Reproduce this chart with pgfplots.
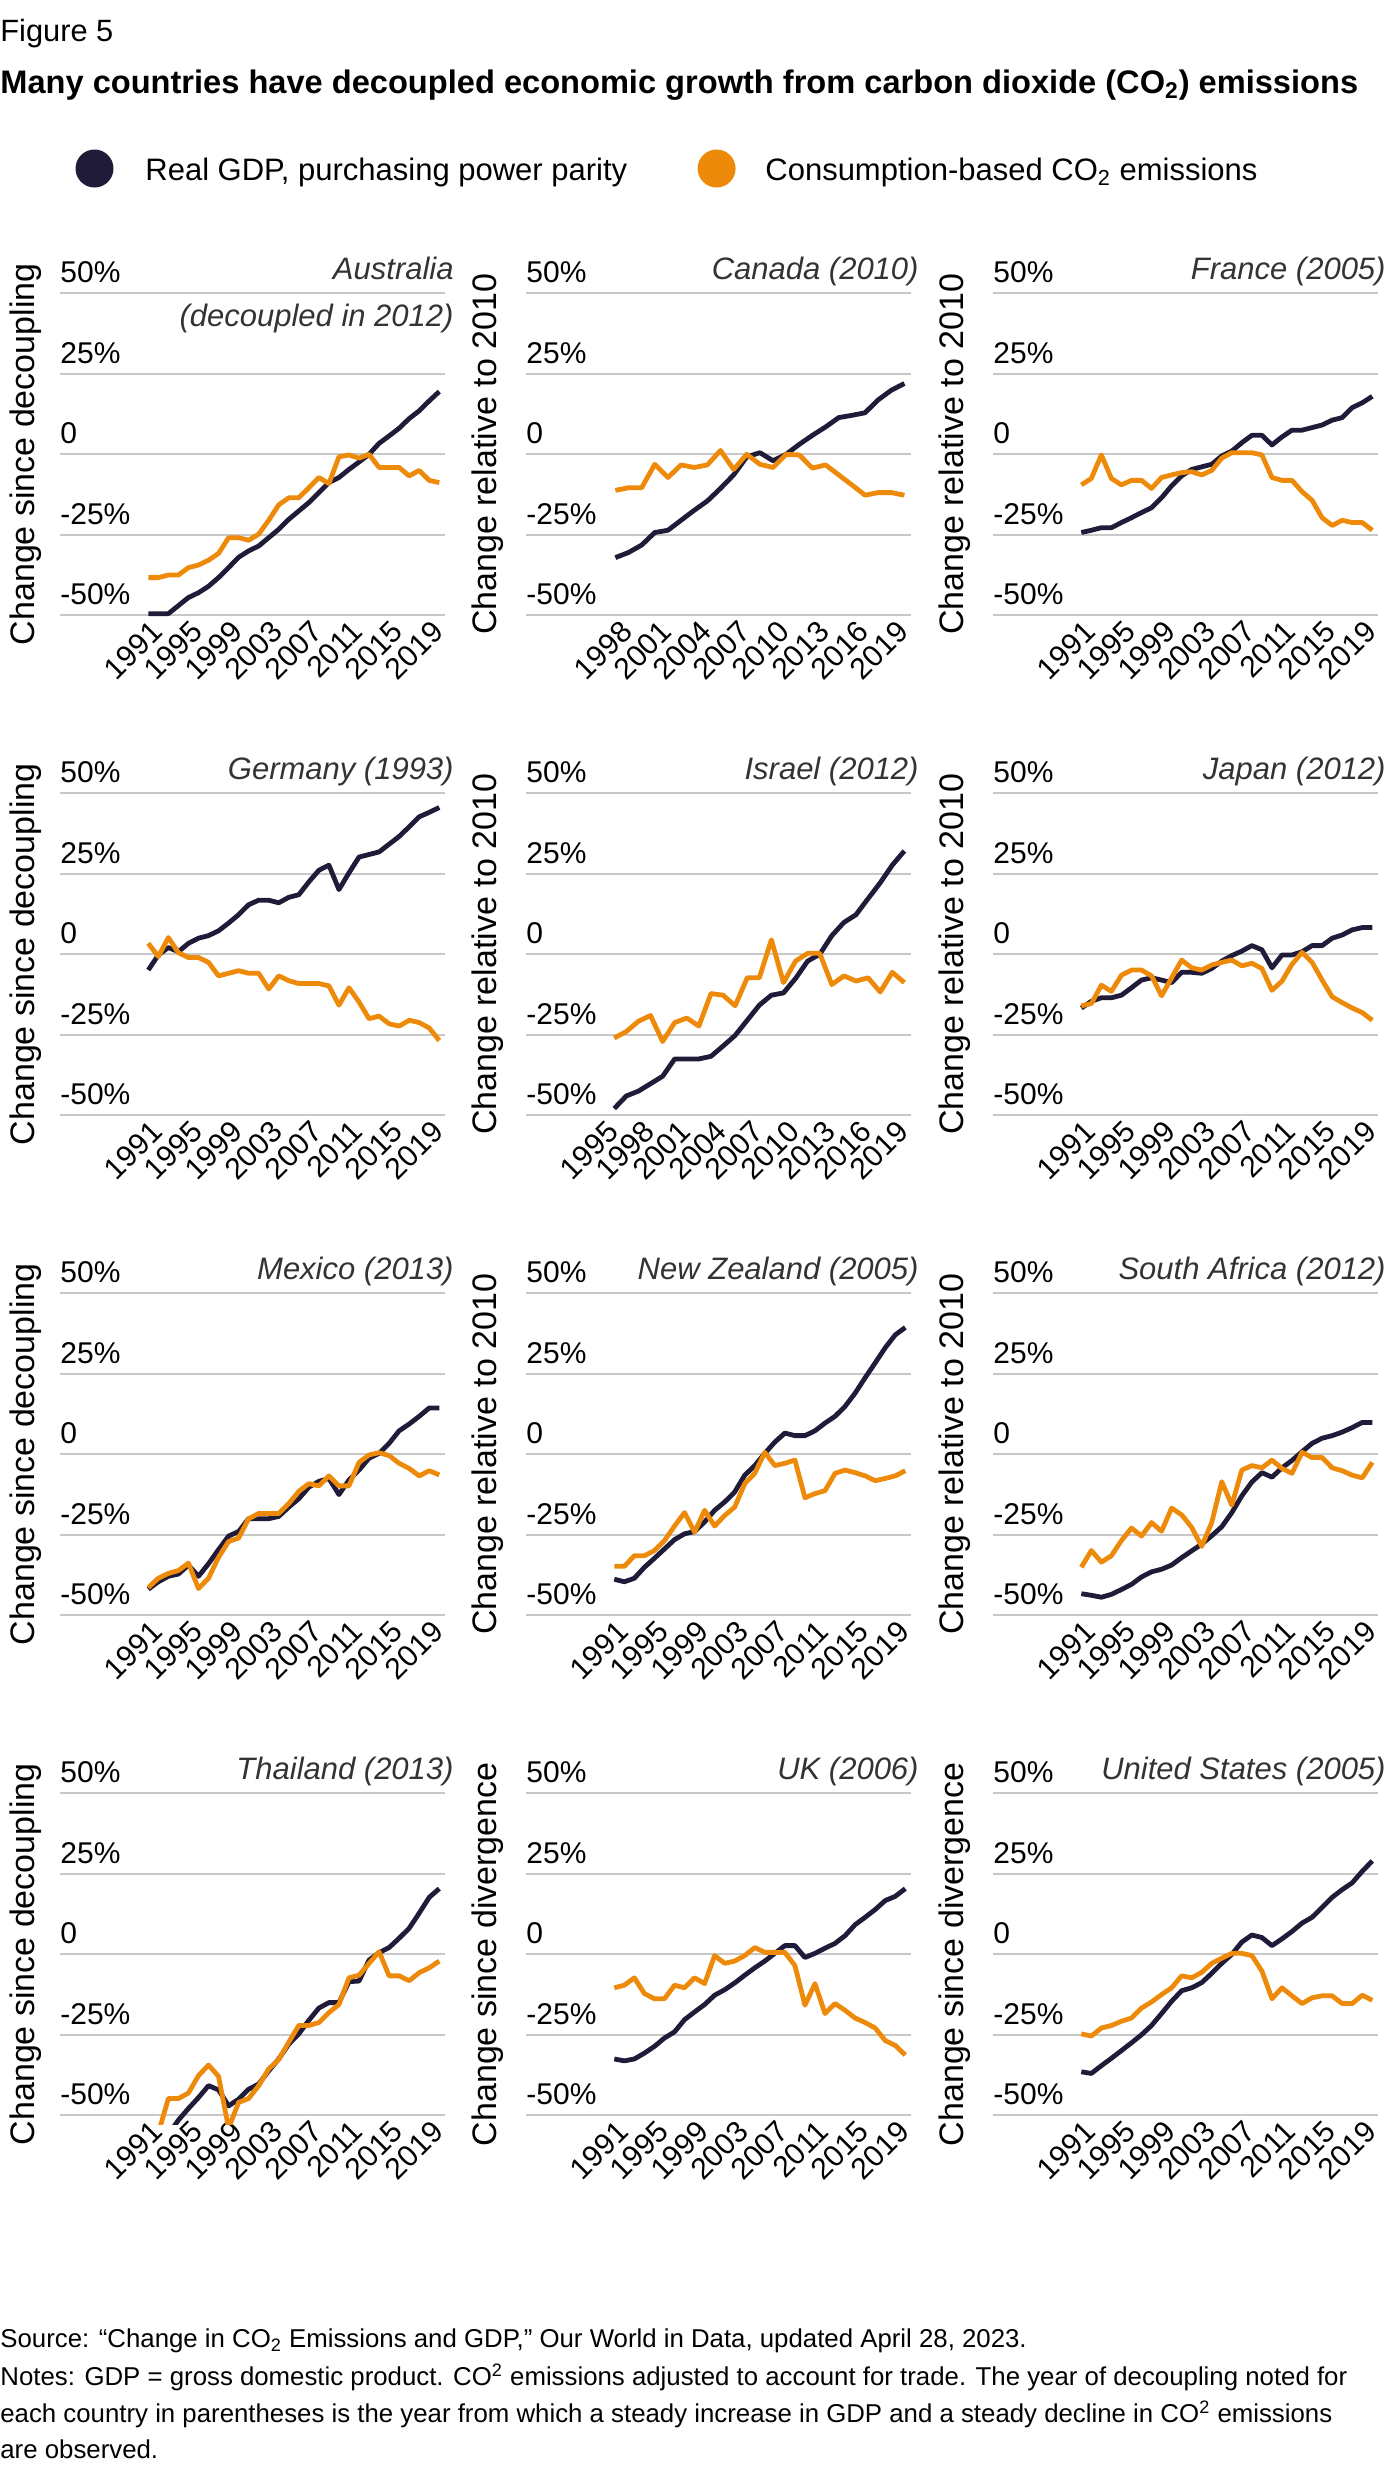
\documentclass[border=0pt]{standalone}
\usepackage{pgfplots}
\pgfplotsset{compat=1.18}
\usepackage{pgfplotstable}
\usepackage{fontspec}
\setmainfont{Liberation Sans}

\definecolor{gdpnavy}{HTML}{1F1B38}
\definecolor{co2orange}{HTML}{EE8A0A}
\definecolor{gridgray}{HTML}{C8C8C8}
\definecolor{txtgray}{HTML}{333333}

% year, GDP change, consumption-based CO2 change (%)
\pgfplotstableread{
year gdp co2
1990 -49.5 -38.3
1991 -49.5 -38.3
1992 -49.5 -37.5
1993 -47.0 -37.5
1994 -44.5 -35.2
1995 -43.0 -34.4
1996 -41.0 -32.9
1997 -38.3 -30.8
1998 -35.2 -25.9
1999 -32.0 -25.9
2000 -30.0 -26.7
2001 -28.5 -24.8
2002 -25.9 -20.5
2003 -23.3 -15.7
2004 -20.2 -13.5
2005 -17.6 -13.5
2006 -15.0 -10.4
2007 -11.9 -7.2
2008 -8.8 -9.1
2009 -7.2 -0.8
2010 -4.7 -0.2
2011 -2.4 -1.2
2012 0.0 0.0
2013 3.4 -4.1
2014 5.7 -4.1
2015 8.1 -4.1
2016 11.1 -6.7
2017 13.5 -5.0
2018 16.6 -8.1
2019 19.5 -8.8
}\tabAUS

\pgfplotstableread{
year gdp co2
1997 -32.1 -11.2
1998 -30.5 -10.4
1999 -28.2 -10.4
2000 -24.3 -3.1
2001 -23.6 -7.2
2002 -20.5 -3.3
2003 -17.4 -4.1
2004 -14.5 -3.3
2005 -10.6 1.2
2006 -6.4 -4.7
2007 -0.8 0.0
2008 0.5 -3.1
2009 -2.0 -4.1
2010 0.0 0.0
2011 3.1 -0.2
2012 5.9 -4.3
2013 8.5 -3.3
2014 11.4 -6.4
2015 12.1 -9.5
2016 12.9 -12.7
2017 16.9 -11.9
2018 19.9 -11.9
2019 22.0 -12.7
}\tabCAN

\pgfplotstableread{
year gdp co2
1990 -24.3 -9.5
1991 -23.6 -7.5
1992 -22.8 -0.2
1993 -22.8 -7.5
1994 -21.2 -9.5
1995 -19.7 -8.1
1996 -18.1 -8.1
1997 -16.6 -10.6
1998 -13.5 -7.2
1999 -9.8 -6.4
2000 -6.7 -5.7
2001 -4.7 -5.4
2002 -3.9 -6.4
2003 -3.1 -5.0
2004 -0.5 -1.2
2005 1.0 0.5
2006 3.6 0.5
2007 5.9 0.5
2008 5.9 -0.2
2009 2.9 -7.2
2010 5.4 -8.1
2011 7.5 -8.1
2012 7.5 -11.6
2013 8.3 -14.3
2014 9.1 -19.7
2015 10.6 -22.1
2016 11.4 -20.5
2017 14.5 -21.2
2018 16.0 -21.2
2019 18.0 -23.6
}\tabFRA

\pgfplotstableread{
year gdp co2
1990 -4.9 3.4
1991 -0.2 -0.7
1992 2.1 5.2
1993 0.8 0.5
1994 3.4 -1.0
1995 5.0 -1.0
1996 5.8 -2.5
1997 7.3 -6.7
1998 9.7 -5.9
1999 12.3 -5.1
2000 15.4 -5.9
2001 16.8 -5.9
2002 16.8 -10.8
2003 16.0 -6.7
2004 17.7 -8.2
2005 18.5 -9.1
2006 22.5 -9.1
2007 26.1 -9.1
2008 27.7 -9.8
2009 20.1 -15.8
2010 25.3 -10.4
2011 30.2 -14.8
2012 31.0 -20.0
2013 31.8 -19.2
2014 34.2 -21.6
2015 36.6 -22.3
2016 39.6 -20.5
2017 42.7 -21.2
2018 44.1 -22.9
2019 45.6 -26.8
}\tabDEU

\pgfplotstableread{
year gdp co2
1995 -47.9 -26.0
1996 -44.0 -24.0
1997 -42.5 -20.8
1998 -40.2 -19.0
1999 -37.9 -27.1
2000 -32.5 -21.2
2001 -32.5 -19.8
2002 -32.5 -22.3
2003 -31.7 -12.2
2004 -28.5 -12.7
2005 -25.2 -16.0
2006 -20.5 -7.3
2007 -15.8 -7.3
2008 -12.7 4.5
2009 -12.0 -8.8
2010 -7.5 -2.1
2011 -2.1 0.3
2012 0.0 0.3
2013 5.8 -9.4
2014 9.9 -6.7
2015 12.3 -8.3
2016 17.3 -7.3
2017 22.2 -11.7
2018 27.7 -5.6
2019 32.1 -8.8
}\tabISR

\pgfplotstableread{
year gdp co2
1990 -16.7 -16.0
1991 -14.6 -15.3
1992 -13.5 -9.6
1993 -13.5 -11.5
1994 -12.7 -6.5
1995 -10.4 -4.9
1996 -8.0 -4.9
1997 -7.3 -6.7
1998 -8.0 -12.9
1999 -8.8 -7.3
2000 -5.6 -1.8
2001 -5.6 -4.2
2002 -5.9 -4.9
2003 -4.4 -3.3
2004 -2.1 -2.5
2005 -0.4 -1.8
2006 1.0 -3.6
2007 2.7 -2.8
2008 1.4 -4.4
2009 -4.2 -11.2
2010 -0.2 -8.3
2011 -0.2 -3.1
2012 0.8 0.6
2013 2.7 -2.5
2014 2.7 -8.0
2015 5.0 -13.2
2016 6.0 -15.0
2017 7.6 -16.7
2018 8.3 -18.1
2019 8.3 -20.5
}\tabJPN

\pgfplotstableread{
year gdp co2
1990 -41.9 -41.4
1991 -39.6 -38.5
1992 -37.9 -37.0
1993 -37.2 -36.1
1994 -34.4 -33.8
1995 -37.9 -41.7
1996 -34.0 -38.5
1997 -29.6 -32.0
1998 -25.4 -27.1
1999 -24.0 -26.0
2000 -20.0 -20.0
2001 -20.0 -18.4
2002 -20.0 -18.4
2003 -19.3 -18.4
2004 -16.4 -15.3
2005 -13.8 -11.5
2006 -10.2 -9.1
2007 -8.4 -9.8
2008 -7.5 -6.7
2009 -12.5 -9.8
2010 -8.0 -9.8
2011 -4.9 -2.5
2012 -1.2 -0.2
2013 0.3 0.5
2014 3.4 -0.4
2015 7.3 -2.8
2016 9.4 -4.4
2017 11.8 -6.7
2018 14.4 -5.1
2019 14.4 -6.4
}\tabMEX

\pgfplotstableread{
year gdp co2
1990 -38.8 -34.8
1991 -39.6 -34.8
1992 -38.5 -31.5
1993 -35.1 -31.5
1994 -32.3 -29.9
1995 -29.4 -26.8
1996 -26.5 -22.3
1997 -24.7 -18.1
1998 -24.0 -24.2
1999 -21.0 -17.4
2000 -17.4 -22.3
2001 -14.8 -19.0
2002 -11.7 -16.4
2003 -6.5 -9.1
2004 -3.5 -5.9
2005 0.3 0.6
2006 3.8 -3.5
2007 6.6 -2.8
2008 5.8 -1.8
2009 5.8 -13.5
2010 7.3 -12.2
2011 9.7 -11.3
2012 11.8 -5.9
2013 14.9 -4.9
2014 19.0 -5.7
2015 23.8 -6.7
2016 28.4 -8.2
2017 33.1 -7.5
2018 37.1 -6.7
2019 39.4 -5.1
}\tabNZL

\pgfplotstableread{
year gdp co2
1990 -43.3 -35.1
1991 -43.8 -29.9
1992 -44.4 -33.5
1993 -43.5 -31.5
1994 -42.0 -26.8
1995 -40.4 -22.9
1996 -38.1 -25.4
1997 -36.5 -21.2
1998 -35.7 -23.9
1999 -34.4 -16.7
2000 -32.1 -18.8
2001 -30.0 -22.7
2002 -27.9 -28.6
2003 -25.3 -21.2
2004 -22.5 -8.5
2005 -18.1 -15.8
2006 -12.9 -4.9
2007 -8.6 -3.5
2008 -5.7 -4.2
2009 -7.1 -1.8
2010 -4.2 -4.4
2011 -1.9 -5.9
2012 0.8 0.6
2013 3.4 -1.0
2014 5.0 -1.0
2015 5.8 -4.2
2016 6.9 -5.1
2017 8.3 -6.5
2018 9.9 -7.3
2019 9.9 -2.5
}\tabZAF

\pgfplotstableread{
year gdp co2
1990 -63.0 -63.0
1991 -59.5 -55.5
1992 -56.0 -44.8
1993 -51.5 -44.8
1994 -47.9 -43.1
1995 -44.5 -37.7
1996 -40.8 -34.4
1997 -42.1 -37.9
1998 -47.1 -54.0
1999 -45.0 -46.0
2000 -41.9 -44.8
2001 -40.3 -40.8
2002 -36.2 -35.6
2003 -32.5 -32.7
2004 -27.9 -27.3
2005 -24.7 -22.1
2006 -20.5 -22.1
2007 -16.7 -21.2
2008 -15.0 -18.1
2009 -15.0 -15.6
2010 -8.5 -7.3
2011 -8.3 -6.5
2012 -1.8 -2.8
2013 0.5 0.8
2014 2.1 -6.7
2015 5.0 -6.7
2016 8.1 -8.2
2017 12.8 -5.7
2018 17.7 -4.2
2019 20.4 -2.1
}\tabTHA

\pgfplotstableread{
year gdp co2
1990 -32.5 -10.4
1991 -33.1 -9.6
1992 -32.5 -7.3
1993 -30.7 -12.2
1994 -28.6 -13.8
1995 -26.0 -13.8
1996 -24.1 -9.6
1997 -20.3 -10.4
1998 -17.9 -7.3
1999 -15.6 -9.1
2000 -12.7 -0.4
2001 -11.0 -2.8
2002 -8.9 -2.1
2003 -6.5 -0.4
2004 -4.2 2.1
2005 -2.1 0.6
2006 0.3 0.6
2007 2.7 0.6
2008 2.7 -3.5
2009 -1.0 -15.8
2010 0.3 -9.1
2011 1.9 -18.4
2012 3.4 -15.3
2013 5.8 -17.4
2014 9.2 -19.8
2015 11.5 -21.2
2016 13.9 -22.9
2017 16.7 -26.8
2018 18.0 -28.3
2019 20.4 -31.3
}\tabGBR

\pgfplotstableread{
year gdp co2
1990 -36.5 -24.7
1991 -37.0 -25.4
1992 -34.6 -22.9
1993 -32.3 -22.1
1994 -29.9 -20.8
1995 -27.5 -19.8
1996 -25.0 -16.7
1997 -22.1 -14.8
1998 -18.4 -12.5
1999 -14.6 -10.4
2000 -11.3 -6.7
2001 -10.4 -7.3
2002 -8.8 -5.6
2003 -5.9 -2.8
2004 -2.8 -1.2
2005 0.0 0.3
2006 3.8 0.3
2007 6.0 -0.4
2008 5.2 -5.2
2009 2.7 -13.8
2010 4.8 -10.4
2011 7.1 -12.9
2012 9.7 -15.3
2013 11.5 -13.5
2014 14.6 -12.9
2015 17.7 -12.9
2016 20.1 -15.3
2017 22.2 -15.3
2018 25.8 -12.7
2019 29.0 -14.3
}\tabUSA

\pgfplotsset{
  panel/.style={
    scale only axis, width=192.5pt, height=167.4pt, anchor=north west,
    ymin=-53, ymax=51,
    ytick={-50,-25,0,25,50}, yticklabels={-50\%,-25\%,0,25\%,50\%},
    ymajorgrids, grid style={gridgray, line width=1pt},
    axis line style={draw=none}, major tick length=0pt,
    /pgf/number format/assume math mode=true,
    yticklabel style={anchor=south west, inner sep=0pt, yshift=5pt,
      font=\fontsize{15}{18}\selectfont},
    xticklabel style={rotate=45, anchor=east, inner sep=1pt,
      font=\fontsize{15}{18}\selectfont, /pgf/number format/1000 sep={}},
  },
  yr4/.style={xmin=1981.2, xmax=2019.57, xtick={1991,1995,...,2019}},
  yrCA/.style={xmin=1990.2, xmax=2019.5, xtick={1998,2001,...,2019}},
  yrIL/.style={xmin=1987.7, xmax=2019.55, xtick={1995,1998,...,2019}},
  gdpline/.style={gdpnavy, line width=2.4pt, line join=round},
  co2line/.style={co2orange, line width=2.4pt, line join=round},
}

\newcommand\panel[4]{%
  \begin{axis}[panel, #3, at={(#1pt,#2pt)}]
    \addplot[gdpline] table[x=year, y=gdp]{#4};
    \addplot[co2line] table[x=year, y=co2]{#4};
  \end{axis}}

\begin{document}
\begin{tikzpicture}[x=1pt, y=1pt,
  ttl/.style={anchor=base east, inner sep=0pt, text=txtgray,
    font=\fontsize{15.5}{18}\selectfont\itshape},
  ylab/.style={rotate=90, inner sep=0pt, font=\fontsize{17}{20}\selectfont}]
\path[use as bounding box] (0,0) rectangle (700,-1232.5);

\node[anchor=base west, inner sep=0pt, font=\fontsize{15.4}{18}\selectfont] at (0,-20.5) {Figure 5};
\node[anchor=base west, inner sep=0pt, font=\fontsize{16.3}{19}\selectfont\bfseries] at (0,-46.5)
  {Many countries have decoupled economic growth from carbon dioxide (CO\textsubscript{2}) emissions};

% legend
\fill[gdpnavy] (47.25,-84.25) circle (9.5);
\node[anchor=base west, inner sep=0pt, font=\fontsize{15.5}{18}\selectfont] at (72.5,-90) {Real GDP, purchasing power parity};
\fill[co2orange] (358.3,-84.25) circle (9.5);
\node[anchor=base west, inner sep=0pt, font=\fontsize{15.5}{18}\selectfont] at (382.5,-90) {Consumption-based CO\textsubscript{2} emissions};

% row 1
\panel{30}{-145.05}{yr4}{\tabAUS}
\panel{263}{-145.05}{yrCA}{\tabCAN}
\panel{496.5}{-145.05}{yr4}{\tabFRA}
% row 2
\panel{30}{-395.05}{yr4}{\tabDEU}
\panel{263}{-395.05}{yrIL}{\tabISR}
\panel{496.5}{-395.05}{yr4}{\tabJPN}
% row 3
\panel{30}{-645.05}{yr4}{\tabMEX}
\panel{263}{-645.05}{yr4}{\tabNZL}
\panel{496.5}{-645.05}{yr4}{\tabZAF}
% row 4
\panel{30}{-895.05}{yr4}{\tabTHA}
\panel{263}{-895.05}{yr4}{\tabGBR}
\panel{496.5}{-895.05}{yr4}{\tabUSA}

% panel titles
\node[ttl] at (227,-139.65) {Australia};
\node[ttl] at (227,-163.35) {(decoupled in 2012)};
\node[ttl] at (459.5,-139.65) {Canada (2010)};
\node[ttl] at (693,-139.65) {France (2005)};
\node[ttl] at (227,-389.65) {Germany (1993)};
\node[ttl] at (459.5,-389.65) {Israel (2012)};
\node[ttl] at (693,-389.65) {Japan (2012)};
\node[ttl] at (227,-639.65) {Mexico (2013)};
\node[ttl] at (459.5,-639.65) {New Zealand (2005)};
\node[ttl] at (693,-639.65) {South Africa (2012)};
\node[ttl] at (227,-889.65) {Thailand (2013)};
\node[ttl] at (459.5,-889.65) {UK (2006)};
\node[ttl] at (693,-889.65) {United States (2005)};

% y labels
\foreach \yy in {-227.15,-477.15,-727.15,-977.15}
  \node[ylab] at (13,\yy) {Change since decoupling};
\foreach \yy in {-227.15,-477.15,-727.15} {
  \node[ylab] at (244,\yy) {Change relative to 2010};
  \node[ylab] at (477.5,\yy) {Change relative to 2010};
}
\node[ylab] at (244,-977.15) {Change since divergence};
\node[ylab] at (477.5,-977.15) {Change since divergence};

% footer
\begin{scope}[every node/.style={anchor=base west, inner sep=0pt, font=\fontsize{12.9}{15}\selectfont}]
\node at (0,-1173.5) {Source: “Change in CO\textsubscript{2} Emissions and GDP,” Our World in Data, updated April 28, 2023.};
\node at (0,-1192.5) {Notes: GDP = gross domestic product. CO\textsuperscript{2} emissions adjusted to account for trade. The year of decoupling noted for};
\node at (0,-1211) {each country in parentheses is the year from which a steady increase in GDP and a steady decline in CO\textsuperscript{2} emissions};
\node at (0,-1229) {are observed.};
\end{scope}
\end{tikzpicture}
\end{document}
